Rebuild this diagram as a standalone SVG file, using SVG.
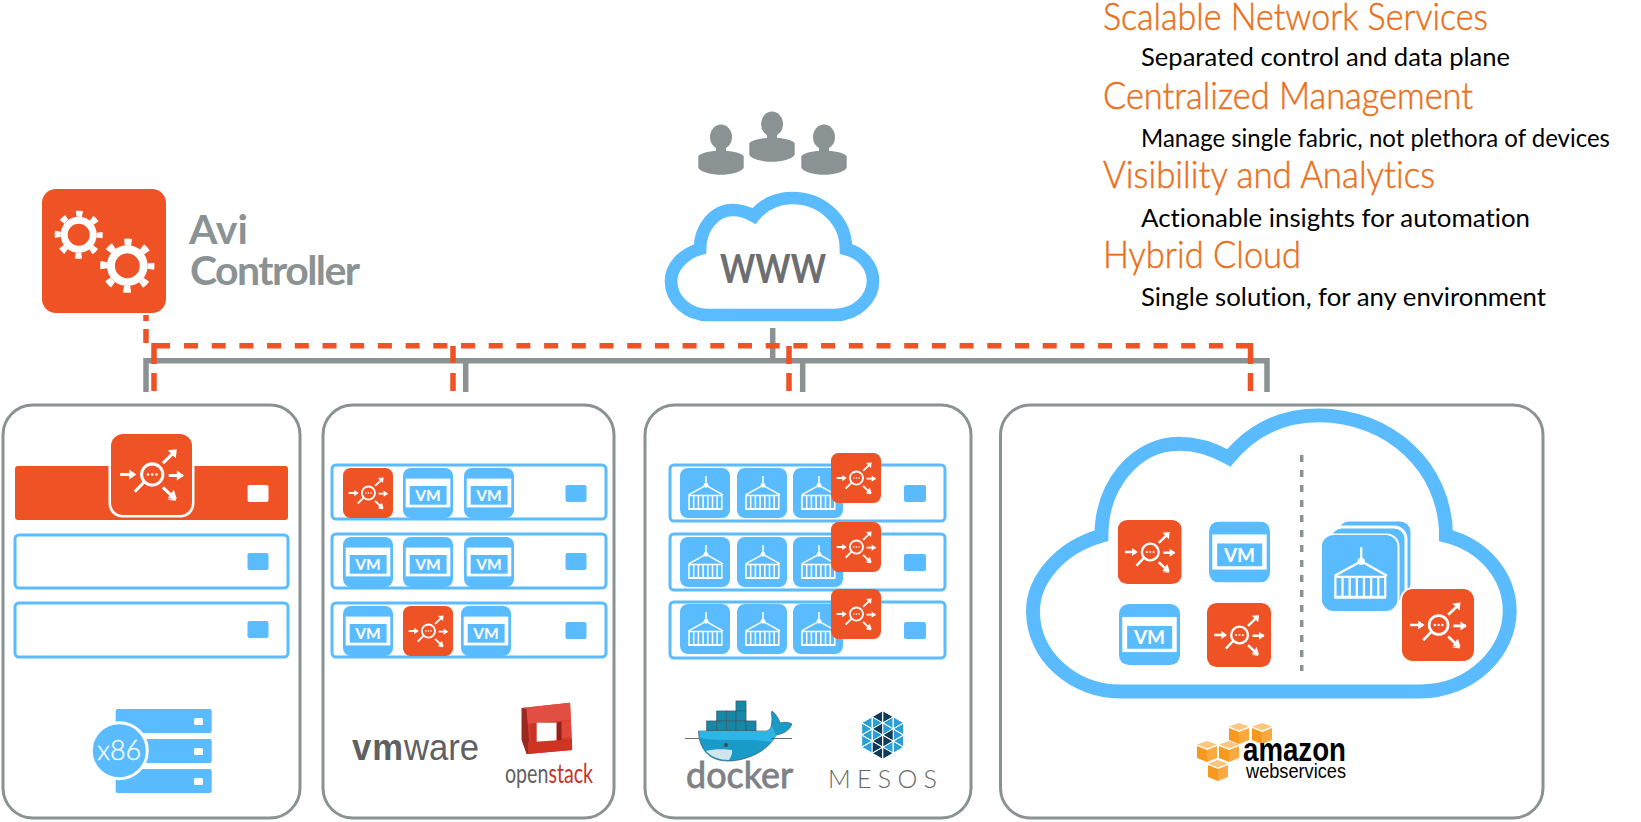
<svg xmlns="http://www.w3.org/2000/svg" xmlns:xlink="http://www.w3.org/1999/xlink" width="1641" height="822" viewBox="0 0 1641 822">
<style>
text{font-family:"Lato","Liberation Sans",sans-serif;font-variant-ligatures:none}
.panel{fill:#fff;stroke:#8a9293;stroke-width:3}
.row{fill:#fff;stroke:#5abcff;stroke-width:3}
.sq{fill:#5abcff}
.bus{fill:none;stroke:#8a9293;stroke-width:5.5}
.dash{fill:none;stroke:#ef5224;stroke-width:5.5}
.h{font-size:38px;font-weight:300;fill:#e9701a;stroke:#e9701a;stroke-width:.5}
.s{font-size:25px;font-weight:400;fill:#000}
.vm{font-size:15.500px;font-weight:700;fill:#fff;text-anchor:middle}
.vml{font-size:19px}
.lbs{fill:none;stroke:#fff;stroke-width:3}
</style>
<defs>
<symbol id="lb" viewBox="0 0 80 80">
<rect width="80" height="80" rx="12" fill="#ef5224"/>
<g class="lbs">
<circle cx="40.7" cy="40" r="10.5"/>
<path d="M32.5 47.7L23.5 57M9 40H23M57 41H71M51.3 28.7L62.7 17.7M51.3 52.7L62.7 63.7"/>
</g>
<path fill="#fff" d="M18 35l7 5-7 5zM65 36l7 5-7 5zM56 16l9-1-1 9zM64.500 63l-.5 3-8.500-1zM62 55l3 9-9-.500z"/>
<circle cx="36.500" cy="40" r="1.300" fill="#fff"/><circle cx="40.700" cy="40" r="1.300" fill="#fff"/><circle cx="44.900" cy="40" r="1.300" fill="#fff"/>
</symbol>
<symbol id="vmt" viewBox="0 0 50 50">
<rect width="50" height="50" rx="8" fill="#5abcff"/>
<rect x="2.700" y="10.600" width="44.600" height="28.800" fill="#fff"/>
<rect x="6.700" y="18" width="36.900" height="18.700" fill="#5abcff"/>
</symbol>
<symbol id="ct" viewBox="0 0 50 50">
<rect width="50" height="50" rx="8" fill="#5abcff"/>
<g fill="none" stroke="#fff" stroke-width="1.500">
<path d="M26 8V17M26 17.300L8.500 26.800M26 17.300L43 26.800M8.500 27.500H42.300M9 27.500V41M13.700 27.500V41M18.400 27.500V41M23.100 27.500V41M27.800 27.500V41M32.500 27.500V41M37.200 27.500V41M41.800 27.500V41"/>
<path stroke-width="2" d="M8.300 41H42.300"/>
</g>
<circle cx="26" cy="17.300" r="2.400" fill="#fff"/>
</symbol>
<g id="gear">
<circle r="14.500" fill="none" stroke="#fff" stroke-width="7"/>
<circle r="21" fill="none" stroke="#fff" stroke-width="6" stroke-dasharray="6.500 9.993" stroke-dashoffset="3.250"/>
</g>
<g id="user" fill="#8a9293">
<ellipse cx="0" cy="0" rx="11" ry="12.500"/>
<rect x="-5" y="8" width="10" height="8"/>
<path d="M-22.700 19C-16 12 16 12 22.700 19V31C16 40 -16 40 -22.700 31Z"/>
</g>
<path id="cloud" fill="none" stroke="#5abcff" d="M700 249C682 254 671 268 671 281C671 300 688 315 708 315L835 315C857 315 873 298 873 281C873 266 862 253 846 249C846 220 822 198 792 198C775 198 763 205 754 216C747 212 740 210 733 210C714 210 700 228 700 249Z"/>
<g id="cube">
<path d="M0 5L10 9V21L0 17Z" fill="#f7981f"/>
<path d="M20 5L10 9V21L20 17Z" fill="#faa93e"/>
<path d="M0 3.500L10 0L20 3.500L10 7.500Z" fill="#fcc67e"/>
</g>
</defs>
<rect width="1641" height="822" fill="#fff"/>

<g id="connectors">
<path class="bus" d="M146 392V360.700H1267V392M465.700 360.700V392M802.700 360.700V392M772.700 328V360.700"/>
<path class="dash" d="M146 315V321M146 329V343"/>
<path class="dash" d="M170 345.700H154V364M154 373V391"/>
<path class="dash" stroke-dasharray="14 13.700" d="M184 345.700H1236"/>
<path class="dash" d="M1236 345.700H1250.500V364M1250.500 373V391"/>
<path class="dash" d="M453 346V363M453 373V391"/>
<path class="dash" d="M789 346V364M789 373V391"/>
</g>

<g id="users">
<use href="#user" transform="translate(721 137)"/>
<use href="#user" transform="translate(772 124)"/>
<use href="#user" transform="translate(824 137)"/>
</g>

<g id="www">
<use href="#cloud" stroke-width="12.700"/>
<text x="720" y="283" font-size="41" font-weight="700" fill="#6d6e71" textLength="106" lengthAdjust="spacingAndGlyphs">WWW</text>
</g>

<g id="controller">
<rect x="42" y="189" width="124" height="124" rx="14" fill="#ef5224"/>
<use href="#gear" transform="translate(78.700 234.700)"/>
<use href="#gear" transform="translate(127.300 265.700) scale(1.130)"/>
<text x="189" y="244" font-size="41" font-weight="700" fill="#8a9293">Avi</text>
<text x="190" y="285" font-size="41" font-weight="700" fill="#8a9293" textLength="170">Controller</text>
</g>

<g id="panel-x86">
<rect class="panel" x="3" y="405" width="297" height="413" rx="30"/>
<rect x="15" y="466" width="273" height="54" rx="3" fill="#ef5224"/>
<rect x="247.500" y="485" width="21" height="17" rx="2" fill="#fff"/>
<rect class="row" x="15" y="535" width="273" height="53" rx="4"/>
<rect class="sq" x="247.500" y="553" width="21" height="17" rx="2"/>
<rect class="row" x="15" y="603" width="273" height="54" rx="4"/>
<rect class="sq" x="247.500" y="621" width="21" height="17" rx="2"/>
<rect x="108.500" y="431.500" width="86" height="86" rx="14" fill="#fff"/>
<use href="#lb" x="111" y="434" width="81" height="81"/>
<rect class="sq" x="115.700" y="709" width="96" height="24" rx="2"/>
<rect class="sq" x="115.700" y="739" width="96" height="24" rx="2"/>
<rect class="sq" x="115.700" y="769" width="96" height="24" rx="2"/>
<rect x="194" y="718" width="9" height="7" rx="1.500" fill="#fff"/>
<rect x="194" y="748" width="9" height="7" rx="1.500" fill="#fff"/>
<rect x="194" y="778" width="9" height="7" rx="1.500" fill="#fff"/>
<circle cx="119.300" cy="750.700" r="28" fill="#5abcff" stroke="#fff" stroke-width="3"/>
<text x="119.300" y="760" font-size="27" font-weight="300" fill="#fff" stroke="#fff" stroke-width=".3" text-anchor="middle">x86</text>
</g>

<g id="panel-vmware">
<rect class="panel" x="323" y="405" width="291" height="413" rx="30"/>
<rect class="row" x="332" y="465" width="274" height="54" rx="4"/>
<rect class="row" x="332" y="534" width="274" height="54" rx="4"/>
<rect class="row" x="332" y="603" width="274" height="54" rx="4"/>
<rect class="sq" x="565.500" y="485" width="21" height="17" rx="2"/>
<rect class="sq" x="565.500" y="553" width="21" height="17" rx="2"/>
<rect class="sq" x="565.500" y="622" width="21" height="17" rx="2"/>
<use href="#lb" x="343" y="468" width="50" height="50"/>
<use href="#vmt" x="403" y="468" width="50" height="50"/><text class="vm" x="428" y="501">VM</text>
<use href="#vmt" x="464" y="468" width="50" height="50"/><text class="vm" x="489" y="501">VM</text>
<use href="#vmt" x="343" y="537" width="50" height="50"/><text class="vm" x="368" y="570">VM</text>
<use href="#vmt" x="403" y="537" width="50" height="50"/><text class="vm" x="428" y="570">VM</text>
<use href="#vmt" x="464" y="537" width="50" height="50"/><text class="vm" x="489" y="570">VM</text>
<use href="#vmt" x="343" y="606" width="50" height="50"/><text class="vm" x="368" y="639">VM</text>
<use href="#lb" x="403" y="606" width="50" height="50"/>
<use href="#vmt" x="461" y="606" width="50" height="50"/><text class="vm" x="486" y="639">VM</text>
<text x="352" y="760" font-size="36" fill="#5f6062" textLength="127" lengthAdjust="spacingAndGlyphs" style="font-family:'Liberation Sans',sans-serif"><tspan font-weight="700" letter-spacing="1">vm</tspan><tspan>ware</tspan></text>
<g id="openstack-logo">
<path d="M521.700 708L570 702.700L572.300 750L526.700 754L521.700 740Z" fill="#d9392a"/>
<path d="M521.700 708L570 702.700L571 720L536.700 722.700L526 724Z" fill="#e24e42"/>
<path d="M521.700 708L526.500 709L530 754L526.700 754L521.700 740Z" fill="#9a2a20"/>
<path d="M530 725L536.700 722.700V741.700L531 742Z" fill="#c7352a"/>
<rect x="536.700" y="722.700" width="20" height="19" fill="#fff"/>
<path d="M556.700 722.700L561.700 721.500V741.500L556.700 741.700Z" fill="#8e2419"/>
<path d="M561.700 721.500L571 720.500L571.500 737L561.700 738Z" fill="#e0483c"/>
<path d="M528 742.500L572 739V750L528 754Z" fill="#cf3422"/>
</g>
<text x="505" y="783" font-size="27" fill="#5f6062" textLength="88" lengthAdjust="spacingAndGlyphs">open<tspan fill="#c8312a">stack</tspan></text>
</g>

<g id="panel-docker">
<rect class="panel" x="645" y="405" width="326" height="413" rx="30"/>
<rect class="row" x="670" y="465" width="275" height="56" rx="4"/>
<rect class="row" x="670" y="534" width="275" height="56" rx="4"/>
<rect class="row" x="670" y="602" width="275" height="56" rx="4"/>
<rect class="sq" x="904" y="485" width="22" height="17" rx="2"/>
<rect class="sq" x="904" y="554" width="22" height="17" rx="2"/>
<rect class="sq" x="904" y="622" width="22" height="17" rx="2"/>
<use href="#ct" x="680" y="468" width="50" height="50"/><use href="#ct" x="737" y="468" width="50" height="50"/><use href="#ct" x="793" y="468" width="50" height="50"/>
<use href="#ct" x="680" y="537" width="50" height="50"/><use href="#ct" x="737" y="537" width="50" height="50"/><use href="#ct" x="793" y="537" width="50" height="50"/>
<use href="#ct" x="680" y="604" width="50" height="50"/><use href="#ct" x="737" y="604" width="50" height="50"/><use href="#ct" x="793" y="604" width="50" height="50"/>
<use href="#lb" x="831" y="453" width="50" height="50"/>
<use href="#lb" x="831" y="522" width="50" height="50"/>
<use href="#lb" x="831" y="589" width="50" height="50"/>
<g id="docker-logo">
<g fill="#1488a8" stroke="#3a5f6e" stroke-width=".8">
<rect x="736" y="701" width="10" height="10"/>
<rect x="716.700" y="711" width="9.700" height="10"/><rect x="726.400" y="711" width="9.700" height="10"/><rect x="736" y="711" width="10" height="10"/>
<rect x="706.700" y="721" width="10" height="10"/><rect x="716.700" y="721" width="9.700" height="10"/><rect x="726.400" y="721" width="9.700" height="10"/><rect x="736" y="721" width="10" height="10"/><rect x="746" y="721" width="10" height="10"/>
</g>
<path d="M698.500 731L766 731C771 731 772 725 772 718C771 713 772 711 772 711C776 714 779 719 780 723C784 722 789 722 792 724C789 731 783 734 776 735C768 752 745 761 728 761C708 761 699 748 698.500 731Z" fill="#1a9ac7" stroke="#3a5f6e" stroke-width=".7"/>
<path d="M699 731L766 731C769 731 771 729 772 726L776 735C774 738 773 740 771 742C750 738 720 742 700 738Z" fill="#2bb5e8"/>
<path d="M706 751C713 749 724 749 732 750C733 754 729 760 729 760C720 760 711 757 706 751Z" fill="#cfe6ec"/>
<circle cx="726" cy="745" r="2" fill="#394d54"/>
<path d="M685 738.500H699M771 738.500H792" stroke="#394d54" stroke-width=".8"/>
</g>
<text x="686" y="788" font-size="36" fill="#808184" stroke="#808184" stroke-width=".8" textLength="107" lengthAdjust="spacingAndGlyphs">docker</text>
<g id="mesos-logo" transform="translate(882.700 735)" stroke="#fff" stroke-width="1">
<path fill="#2a9fd6" d="M10.500-18.200L21-12.150L10.500-6.080ZM21-12.150L10.500-6.080L21 0ZM10.500-6.080L21 0L10.500 6.080ZM21 0L10.500 6.080L21 12.150ZM10.500 6.080L21 12.150L10.500 18.200ZM0-12.150L10.500-18.200L10.500-6.080ZM0-12.150L10.500-6.080L0 0ZM10.500 6.080L0 12.150L10.500 18.200ZM-10.500-18.200L-21-12.150L-10.500-6.080ZM-21-12.150L-10.500-6.080L-21 0ZM-10.500-6.080L-21 0L-10.500 6.080ZM-21 0L-10.500 6.080L-21 12.150ZM-10.500 6.080L-21 12.150L-10.500 18.200ZM0-12.150L-10.500-18.200L-10.500-6.080ZM-10.500 6.080L0 0L-10.500-6.080Z"/>
<path fill="#0e3a5c" d="M0-24.300L10.500-18.200L0-12.150ZM0-24.300L-10.500-18.200L0-12.150ZM10.500-6.080L0 0L10.500 6.080ZM0 0L10.500 6.080L0 12.150ZM0 12.150L10.500 18.200L0 24.300ZM0 12.150L-10.500 18.200L0 24.300ZM0-12.150L-10.500-6.080L0 0ZM0 0L-10.500 6.080L0 12.150ZM-10.500 6.080L0 12.150L-10.500 18.200Z"/>
</g>
<text x="828" y="788" font-size="25" font-weight="300" fill="#666" textLength="109">MESOS</text>
</g>

<g id="panel-aws">
<rect class="panel" x="1000.500" y="405" width="542.500" height="413" rx="30"/>
<use href="#cloud" stroke-width="5.900" transform="translate(1033 691.500) scale(2.360) translate(-671 -315)"/>
<path d="M1301.700 455V671" stroke="#8a9293" stroke-width="3.500" stroke-dasharray="7 8" fill="none"/>
<use href="#lb" x="1117.700" y="520" width="64" height="64"/>
<use href="#vmt" x="1209" y="521.500" width="61" height="61"/><text class="vm vml" x="1239.500" y="561.500">VM</text>
<use href="#vmt" x="1119" y="604" width="61" height="61"/><text class="vm vml" x="1149.500" y="644">VM</text>
<use href="#lb" x="1207" y="603" width="64" height="64"/>
<rect x="1337" y="520" width="75" height="76" rx="12" fill="#5abcff" stroke="#fff" stroke-width="3"/>
<rect x="1330" y="527" width="76" height="76" rx="12" fill="#5abcff" stroke="#fff" stroke-width="3"/>
<rect x="1320" y="533.500" width="79.500" height="79" rx="13" fill="#fff"/>
<use href="#ct" x="1321.700" y="535" width="76" height="76"/>
<rect x="1400" y="587" width="76" height="76" rx="13" fill="#fff"/>
<use href="#lb" x="1402" y="589" width="72" height="72"/>
<g id="aws-logo">
<use href="#cube" transform="translate(1229 723)"/><use href="#cube" transform="translate(1252 723)"/>
<use href="#cube" transform="translate(1197 741)"/><use href="#cube" transform="translate(1219 741)"/>
<use href="#cube" transform="translate(1208 760)"/>
</g>
<text x="1243" y="760.700" font-size="33" font-weight="700" fill="#000" textLength="103" lengthAdjust="spacingAndGlyphs" style="font-family:'Liberation Sans',sans-serif">amazon</text>
<text x="1246" y="778" font-size="21" fill="#000" textLength="100" lengthAdjust="spacingAndGlyphs" style="font-family:'Liberation Sans',sans-serif">webservices</text>
</g>

<g id="feature-list">
<text class="h" x="1103" y="30" textLength="385" lengthAdjust="spacingAndGlyphs">Scalable Network Services</text>
<text class="s" x="1141" y="66" textLength="369" lengthAdjust="spacingAndGlyphs">Separated control and data plane</text>
<text class="h" x="1103" y="109" textLength="370" lengthAdjust="spacingAndGlyphs">Centralized Management</text>
<text class="s" x="1141" y="147" textLength="469" lengthAdjust="spacingAndGlyphs">Manage single fabric, not plethora of devices</text>
<text class="h" x="1103" y="188" textLength="332" lengthAdjust="spacingAndGlyphs">Visibility and Analytics</text>
<text class="s" x="1141" y="227" textLength="389" lengthAdjust="spacingAndGlyphs">Actionable insights for automation</text>
<text class="h" x="1103" y="268" textLength="198" lengthAdjust="spacingAndGlyphs">Hybrid Cloud</text>
<text class="s" x="1141" y="306" textLength="405" lengthAdjust="spacingAndGlyphs">Single solution, for any environment</text>
</g>
</svg>
